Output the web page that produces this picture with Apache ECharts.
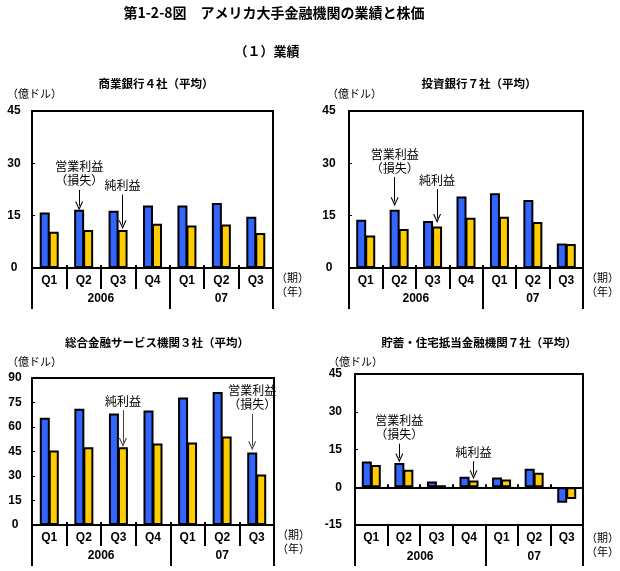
<!DOCTYPE html>
<html>
<head>
<meta charset="utf-8">
<script src="https://cdn.jsdelivr.net/npm/echarts@6/dist/echarts.min.js"></script>
<style>
  html, body { margin: 0; padding: 0; background: #fff; }
  #chart { width: 620px; height: 571px; }
</style>
</head>
<body>
<div id="chart"></div>
<script>
// quarters and years along the bottom axis
const quarters = ['Q1', 'Q2', 'Q3', 'Q4', 'Q1', 'Q2', 'Q3']
const years = ['2006', '07']
const yearQuarterCounts = [4, 3]

// 億ドル, operating profit (loss) / net profit
const commercialOp = [15.9, 16.7, 16.4, 17.9, 17.9, 18.6, 14.7]
const commercialNet = [10.4, 10.9, 10.9, 12.7, 12.2, 12.5, 10.0]
const investmentOp = [13.8, 16.7, 13.5, 20.5, 21.4, 19.5, 7.0]
const investmentNet = [9.3, 11.2, 11.9, 14.4, 14.7, 13.2, 6.9]
const diversifiedOp = [65.6, 71.2, 68.3, 70.1, 78.1, 81.4, 44.4]
const diversifiedNet = [45.6, 47.6, 47.6, 49.9, 50.5, 54.2, 30.9]
const thriftOp = [10.2, 9.6, 2.3, 4.2, 3.9, 7.4, -6.2]
const thriftNet = [8.8, 7.0, 0.8, 2.7, 3.1, 5.8, -4.7]

const OP_LABEL = '営業利益\n（損失）'
const NET_LABEL = '純利益'

const FONT_NUM = '"Liberation Sans", Arial, sans-serif'
const FONT_JP = '"Noto Sans CJK JP", sans-serif'
const BLUE = '#3366ff'
const YELLOW = '#ffcc00'
const ARROW = 'path://M0,10 L5,0 L10,10 L8.6,10 L5,3 L1.4,10 Z'

const panels = [
  {
    title: '商業銀行４社（平均）', titleX: 156, titleY: 84, unitX: 7, unitY: 94,
    grid: { left: 32, top: 111, width: 241, height: 157 },
    min: 0, max: 45, op: commercialOp, net: commercialNet,
    labelAlign: 'center', labelMargin: 18, arrowColor: '#000',
    notes: [
      { s: 0, i: 1, from: 22.4, to: 17.8, text: OP_LABEL },
      { s: 1, i: 2, from: 21.0, to: 12.4, text: NET_LABEL }
    ]
  },
  {
    title: '投資銀行７社（平均）', titleX: 479, titleY: 84, unitX: 327, unitY: 94,
    grid: { left: 349, top: 111, width: 240, height: 157 },
    min: 0, max: 45, op: investmentOp, net: investmentNet,
    labelAlign: 'center', labelMargin: 20, arrowColor: '#000',
    notes: [
      { s: 0, i: 1, from: 26.1, to: 19.0, text: OP_LABEL },
      { s: 1, i: 2, from: 22.6, to: 14.2, text: NET_LABEL }
    ]
  },
  {
    title: '総合金融サービス機関３社（平均）', titleX: 157, titleY: 343, unitX: 7, unitY: 362,
    grid: { left: 32, top: 378, width: 242, height: 147 },
    min: 0, max: 90, op: diversifiedOp, net: diversifiedNet,
    labelAlign: 'center', labelMargin: 17, arrowColor: '#444',
    notes: [
      { s: 1, i: 2, from: 70.4, to: 50.5, text: NET_LABEL },
      { s: 0, i: 6, from: 68.0, to: 48.5, text: OP_LABEL }
    ]
  },
  {
    title: '貯蓄・住宅抵当金融機関７社（平均）', titleX: 479, titleY: 343, unitX: 328, unitY: 362,
    grid: { left: 355, top: 374, width: 235, height: 151 },
    min: -15, max: 45, op: thriftOp, net: thriftNet,
    labelAlign: 'right', labelMargin: 13, arrowColor: '#000',
    notes: [
      { s: 0, i: 1, from: 17.3, to: 11.6, text: OP_LABEL },
      { s: 1, i: 3, from: 10.3, to: 5.0, text: NET_LABEL }
    ]
  }
]

// year boundaries and centres on a 0..quarters.length scale
const yearBounds = [0]
yearQuarterCounts.forEach((n, k) => yearBounds.push(yearBounds[k] + n))
const yearCenters = years.map((y, k) => (yearBounds[k] + yearBounds[k + 1]) / 2)

const grids = []
const xAxes = []
const yAxes = []
const series = []
const graphics = [
  { type: 'text', x: 274, y: 13, style: { text: '第1-2-8図　アメリカ大手金融機関の業績と株価', font: 'bold 14px ' + FONT_JP, fill: '#000', textAlign: 'center', textVerticalAlign: 'middle' } },
  { type: 'text', x: 267, y: 51, style: { text: '（１）業績', font: 'bold 13px ' + FONT_JP, fill: '#000', textAlign: 'center', textVerticalAlign: 'middle' } }
]

const black = { color: '#000', width: 2 }
const numStyle = { color: '#000', fontFamily: FONT_NUM, fontSize: 12, fontWeight: 'bold' }

panels.forEach((p, g) => {
  grids.push(Object.assign({ show: true, borderColor: '#000', borderWidth: 2, backgroundColor: 'transparent' }, p.grid))

  graphics.push({ type: 'text', x: p.titleX, y: p.titleY, style: { text: p.title, font: 'bold 11.5px ' + FONT_JP, fill: '#000', textAlign: 'center', textVerticalAlign: 'middle' } })
  graphics.push({ type: 'text', x: p.unitX, y: p.unitY, style: { text: '（億ドル）', font: '11px ' + FONT_JP, fill: '#000', textAlign: 'left', textVerticalAlign: 'middle' } })

  const base = xAxes.length
  // zero line with short inner ticks
  xAxes.push({
    type: 'category', gridIndex: g, data: quarters, position: 'bottom',
    axisLine: { show: true, onZero: true, lineStyle: black },
    axisTick: { show: true, inside: true, length: 3, lineStyle: black },
    axisLabel: { show: false }, splitLine: { show: false }
  })
  // quarter row
  xAxes.push({
    type: 'category', gridIndex: g, data: quarters, position: 'bottom',
    axisLine: { show: true, onZero: false, lineStyle: black },
    axisTick: { show: true, length: 21, lineStyle: black },
    axisLabel: Object.assign({ margin: 7 }, numStyle),
    name: '（期）\n（年）', nameLocation: 'end', nameGap: 3,
    nameTextStyle: { color: '#000', fontFamily: FONT_JP, fontSize: 11, lineHeight: 14, align: 'left', verticalAlign: 'top', padding: [g === 3 ? 6 : 3, 0, 0, 0] }
  })
  // year row
  xAxes.push({
    type: 'value', gridIndex: g, position: 'bottom', min: 0, max: quarters.length,
    axisLine: { show: false, onZero: false },
    axisTick: { show: true, length: 41, customValues: yearBounds, lineStyle: black },
    axisLabel: Object.assign({
      margin: g === 3 ? 26 : 25,
      customValues: yearCenters,
      formatter: v => years[yearCenters.indexOf(v)] || ''
    }, numStyle),
    splitLine: { show: false }
  })

  yAxes.push({
    type: 'value', gridIndex: g, min: p.min, max: p.max, interval: 15,
    axisLine: { show: false, onZero: false },
    axisTick: { show: true, inside: true, length: 3, lineStyle: { color: '#000', width: 1 } },
    axisLabel: Object.assign({ align: p.labelAlign, margin: p.labelMargin }, numStyle),
    splitLine: { show: false }
  })

  const vals = [p.op, p.net]
  const colors = [BLUE, YELLOW]
  const names = ['営業利益（損失）', '純利益']
  vals.forEach((v, s) => {
    const notes = p.notes.filter(n => n.s === s)
    series.push({
      type: 'bar', name: names[s], xAxisIndex: base + 1, yAxisIndex: g,
      data: v, barWidth: 10, barGap: '-10%',
      itemStyle: { color: colors[s], borderColor: '#000', borderWidth: 2 },
      z: 3,
      markLine: notes.length ? {
        silent: true, animation: false,
        symbol: ['none', ARROW], symbolSize: [8, 9],
        lineStyle: { color: p.arrowColor, width: 1, type: 'solid' },
        label: { show: true, position: 'start', formatter: '{b}', color: '#000', fontFamily: FONT_JP, fontSize: 12, lineHeight: 14, distance: 2 },
        data: notes.map(n => [{ name: n.text, coord: [n.i, n.from] }, { coord: [n.i, n.to] }])
      } : undefined
    })
  })
})

const chart = echarts.init(document.getElementById('chart'), null, { renderer: 'canvas' })
chart.setOption({
  animation: false,
  backgroundColor: '#fff',
  grid: grids,
  xAxis: xAxes,
  yAxis: yAxes,
  series: series,
  graphic: graphics
})
</script>
</body>
</html>
